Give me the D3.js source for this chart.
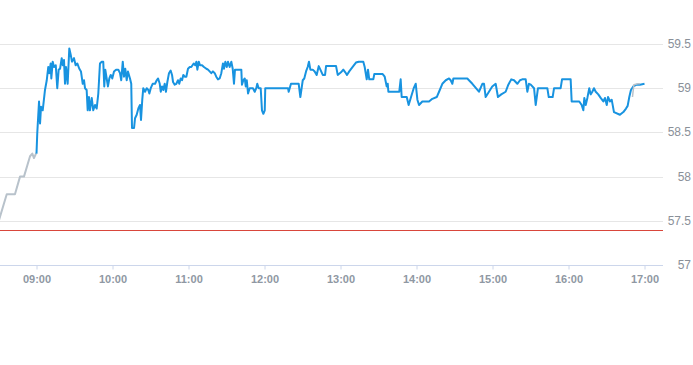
<!DOCTYPE html>
<html>
<head>
<meta charset="utf-8">
<script src="https://cdn.jsdelivr.net/npm/d3@7/dist/d3.min.js"></script>
<style>
  html, body { margin: 0; padding: 0; background: #fff; }
  svg { display: block; }
</style>
</head>
<body>
<svg id="chart" width="693" height="365"></svg>
<script>
// ---- data (minutes after 09:00, price) ----
const preMinutes = [-30, -23.5, -17, -13, -9.9, -5.1, -3.3, -2, -0.4, 0];
const preValues  = [57.49, 57.80, 57.80, 58.0, 58.0, 58.23, 58.26, 58.21, 58.26, 58.26];

const sessionMinutes = [
  0, 0.6, 2.0, 2.8, 3.6, 4.9, 6.7, 8.1, 9.3, 10.1, 11.2, 11.7, 12.8, 13.8, 15.2, 16.4, 17.5, 18.6, 19.9, 20.7,
  21.7, 22.5, 23.3, 24.6, 25.9, 27.0, 28.0, 29.6, 30.9, 32.2, 33.8, 35.1, 36.5, 37.5, 38.3, 39.6, 40.4, 41.4, 42.2, 43.6,
  44.8, 46.2, 47.5, 48.8, 50.1, 51.5, 52.7, 53.5, 54.3, 55.4, 56.4, 57.5, 58.6, 59.8, 61.2, 62.8, 64.6, 65.9, 66.9, 68.1,
  69.1, 70.1, 71.2, 72.2, 73.8, 74.8, 75.4, 77.0, 77.8, 79.1, 80.4, 81.7, 82.5, 83.5, 84.3, 85.7, 87.0, 88.3, 89.1, 90.2,
  91.7, 93.6, 94.9, 96.0, 97.3, 98.1, 99.1, 100.1, 101.2, 102.2, 103.3, 104.6, 105.9, 107.0, 107.8, 109.1, 110.4, 111.7, 112.7, 113.8,
  114.9, 115.9, 117.0, 118.3, 119.6, 121.0, 122.2, 124.1, 125.4, 126.2, 127.0, 128.1, 129.1, 130.7, 132.2, 134.1, 135.4, 136.7, 138.0, 139.3,
  140.7, 141.9, 143.3, 144.6, 145.9, 147.2, 148.0, 149.1, 150.2, 151.2, 152.5, 153.8, 154.9, 155.9, 156.7, 161.7, 162.2, 163.3, 164.4, 165.2,
  166.0, 167.0, 168.3, 170.9, 172.3, 173.5, 174.3, 175.4, 177.0, 178.0, 179.1, 180.2, 180.6, 198.6, 199.1, 200.9, 207.0, 208.3, 210.2, 211.4,
  212.8, 214.1, 215.1, 216.2, 218.1, 219.6, 221.2, 222.8, 224.1, 226.0, 227.8, 228.6, 236.5, 237.8, 240.4, 242.2, 243.8, 245.1, 246.9, 249.6,
  252.2, 254.4, 258.0, 259.1, 260.7, 261.7, 262.7, 265.9, 266.7, 273.3, 274.9, 276.5, 277.3, 277.8, 286.4, 287.5, 288.3, 292.3, 293.8, 295.7,
  297.8, 299.4, 300.7, 302.0, 304.6, 309.9, 312.5, 316.0, 317.8, 320.4, 323.1, 325.7, 327.0, 328.3, 329.1, 340.1, 344.1, 349.3, 352.0, 353.3,
  354.6, 357.2, 359.8, 362.5, 364.3, 366.9, 370.4, 372.5, 374.8, 377.0, 379.6, 381.7, 383.5, 386.2, 387.5, 388.8, 390.2, 392.8, 394.1, 395.9,
  403.3, 404.4, 407.5, 408.6, 413.8, 414.9, 421.7, 422.5, 428.5, 430.4, 431.7, 432.5, 433.6, 434.9, 436.4, 437.5, 438.8, 440.1, 441.5, 443.5,
  445.4, 447.5, 448.8, 450.2, 451.2, 452.8, 454.1, 455.9, 460.6, 463.3, 465.4, 466.7, 468.0, 469.3, 471.1, 473.8, 476.4, 480.0
];
const sessionValues = [
  58.26, 58.49, 58.85, 58.60, 58.79, 58.75, 58.98, 59.09, 59.24, 59.17, 59.28, 59.11, 59.30, 59.24, 59.26, 59.00, 59.21, 59.22, 59.34, 59.26,
  59.32, 59.05, 59.24, 59.05, 59.45, 59.38, 59.30, 59.34, 59.26, 59.28, 59.22, 59.19, 59.05, 59.09, 59.00, 58.98, 58.75, 58.90, 58.75, 58.89,
  58.75, 58.81, 58.77, 58.94, 59.28, 59.30, 59.30, 59.02, 59.21, 59.11, 59.02, 59.11, 59.15, 59.11, 59.19, 59.21, 59.21, 59.17, 59.09, 59.30,
  59.13, 59.22, 59.09, 59.19, 59.11, 59.05, 58.55, 58.55, 58.66, 58.70, 58.77, 58.81, 58.64, 58.87, 59.00, 58.96, 59.00, 58.98, 58.94, 59.00,
  59.05, 59.05, 59.09, 59.11, 59.05, 58.96, 59.02, 58.98, 59.05, 58.96, 59.07, 59.17, 59.20, 59.15, 59.07, 59.04, 59.05, 59.09, 59.05, 59.11,
  59.09, 59.15, 59.13, 59.13, 59.22, 59.24, 59.24, 59.28, 59.26, 59.30, 59.21, 59.30, 59.26, 59.26, 59.24, 59.22, 59.21, 59.19, 59.17, 59.19,
  59.17, 59.13, 59.10, 59.11, 59.17, 59.28, 59.22, 59.30, 59.24, 59.30, 59.24, 59.30, 59.22, 59.05, 59.21, 59.21, 59.04, 59.09, 59.11, 59.02,
  59.09, 58.94, 59.00, 59.00, 58.96, 59.00, 59.05, 59.00, 59.00, 58.75, 58.71, 58.75, 59.00, 59.00, 58.96, 59.05, 59.05, 58.90, 59.09, 59.11,
  59.19, 59.24, 59.30, 59.21, 59.21, 59.19, 59.15, 59.25, 59.21, 59.15, 59.15, 59.25, 59.25, 59.15, 59.18, 59.21, 59.18, 59.15, 59.19, 59.24,
  59.29, 59.30, 59.30, 59.24, 59.10, 59.21, 59.10, 59.10, 59.16, 59.16, 59.13, 59.02, 59.05, 58.96, 58.96, 59.10, 58.90, 58.90, 58.81, 58.90,
  59.00, 59.05, 58.87, 58.81, 58.85, 58.85, 58.88, 58.90, 58.96, 59.05, 59.09, 59.11, 59.09, 59.05, 59.11, 59.11, 59.05, 58.96, 59.05, 59.05,
  58.90, 58.96, 59.02, 59.05, 58.90, 58.93, 58.96, 59.04, 59.10, 59.09, 59.05, 59.09, 59.10, 59.10, 58.96, 59.05, 59.04, 59.00, 58.81, 59.00,
  59.00, 58.90, 58.90, 59.00, 59.00, 59.10, 59.10, 58.85, 58.85, 58.81, 58.75, 58.89, 58.81, 58.89, 59.00, 58.93, 58.96, 59.00, 58.96, 58.93,
  58.89, 58.85, 58.89, 58.81, 58.90, 58.85, 58.87, 58.73, 58.70, 58.73, 58.77, 58.80, 58.90, 58.98, 59.02, 59.04, 59.04, 59.05
];

const closeMinutes = [470.5, 471.6, 474.7, 476.4];
const closeValues  = [58.90, 59.04, 59.05, 59.05];

const referencePrice = 57.4;
const yTicks = [57, 57.5, 58, 58.5, 59, 59.5];
const xTickHours = [9, 10, 11, 12, 13, 14, 15, 16, 17];

// ---- helpers ----
const day = new Date(2024, 0, 2, 9, 0, 0);
const toDate = m => new Date(day.getTime() + m * 60000);
const zip = (ms, vs) => ms.map((m, i) => ({ t: toDate(m), v: vs[i] }));

const svg = d3.select("#chart");
const plotRight = 663;

const x = d3.scaleTime()
  .domain([new Date(2024, 0, 2, 8, 30), new Date(2024, 0, 2, 17, 15)])
  .range([-1.5, 663.5]);
const y = d3.scaleLinear().domain([57, 59.5]).range([265, 44]);

// gridlines
svg.append("g").selectAll("line")
  .data(yTicks.filter(d => d !== 57))
  .join("line")
  .attr("x1", 0).attr("x2", plotRight)
  .attr("y1", d => Math.round(y(d)) + 0.5).attr("y2", d => Math.round(y(d)) + 0.5)
  .attr("stroke", "#e6e6e6").attr("stroke-width", 1);

// y labels
svg.append("g").selectAll("text")
  .data(yTicks)
  .join("text")
  .attr("x", 691).attr("y", d => y(d) + 4)
  .attr("text-anchor", "end")
  .attr("font-family", "Liberation Sans, Arial, sans-serif")
  .attr("font-size", 12)
  .attr("fill", "#8a9099")
  .text(d => d3.format("")(d));

// x axis
const xAxis = d3.axisBottom(x)
  .tickValues(xTickHours.map(h => new Date(2024, 0, 2, h, 0)))
  .tickFormat(d3.timeFormat("%H:%M"))
  .tickSize(4).tickSizeOuter(0).tickPadding(6);
const gx = svg.append("g").attr("transform", "translate(0,265.5)").call(xAxis);
gx.select(".domain").remove();
gx.insert("line", ":first-child").attr("x1", 0).attr("x2", plotRight).attr("y1", 0).attr("y2", 0)
  .attr("stroke", "#ccd6eb").attr("stroke-width", 1);
gx.selectAll(".tick line").attr("stroke", "#ccd6eb");
gx.selectAll(".tick text")
  .attr("font-family", "Liberation Sans, Arial, sans-serif")
  .attr("font-size", 11).attr("font-weight", "bold")
  .attr("fill", "#8f98a3");

// reference line
svg.append("line")
  .attr("x1", 0).attr("x2", plotRight)
  .attr("y1", Math.round(y(referencePrice)) + 0.5).attr("y2", Math.round(y(referencePrice)) + 0.5)
  .attr("stroke", "#d9463b").attr("stroke-width", 1);

const line = d3.line().x(d => x(d.t)).y(d => y(d.v));

svg.append("path").datum(zip(preMinutes, preValues))
  .attr("d", line).attr("fill", "none")
  .attr("stroke", "#b8c2cb").attr("stroke-width", 2).attr("stroke-linejoin", "round");

svg.append("path").datum(zip(sessionMinutes, sessionValues))
  .attr("d", line).attr("fill", "none")
  .attr("stroke", "#1893e0").attr("stroke-width", 2).attr("stroke-linejoin", "round");

svg.append("path").datum(zip(closeMinutes, closeValues))
  .attr("d", line).attr("fill", "none")
  .attr("stroke", "#b8c2cb").attr("stroke-width", 1.5).attr("stroke-linejoin", "round");
</script>
</body>
</html>
